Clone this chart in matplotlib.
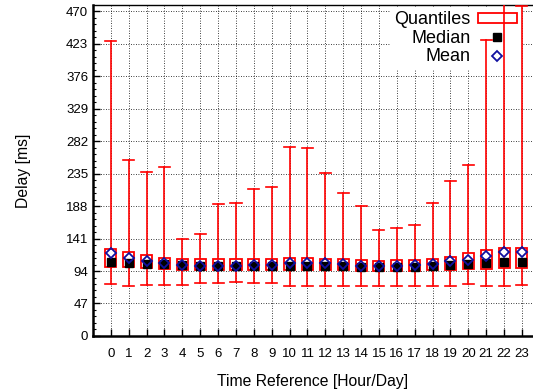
import numpy as np
import matplotlib.pyplot as plt
from matplotlib.patches import Rectangle
from matplotlib.lines import Line2D
from matplotlib.ticker import MultipleLocator

plt.rcParams['font.family'] = ['Liberation Sans', 'DejaVu Sans']

# Hourly delay statistics (ms)
hours = list(range(24))
whisker_lo = [75, 73, 74, 74, 74, 76, 77, 78, 77, 76, 73, 73, 72, 73, 73, 72,
              72, 73, 73, 73, 75, 72, 73, 74]
q1 = [100, 100, 98, 97, 96, 95.5, 95, 95, 95.5, 95.5, 95, 96, 95, 95, 94.5, 94.5,
      94.5, 94.5, 95.5, 95.5, 96.5, 97.5, 98.6, 99]
median = [107, 105.5, 104.5, 104, 102, 101, 101, 101, 101, 101, 101.5, 101, 101,
          101, 100, 100, 100, 100, 101, 102, 104, 106, 107, 107]
mean = [120, 113, 108, 105, 102, 101.5, 101.5, 101.5, 102, 102, 106, 106, 105,
        103.5, 101.5, 101, 101, 102, 103.5, 108, 110.5, 116, 121, 122]
q3 = [126, 122, 117, 113, 111, 111, 111.5, 111, 111.5, 112, 113, 113, 112, 111,
      110, 109, 109.5, 110.5, 112, 115, 119.5, 124, 127.6, 128]
whisker_hi = [427, 255, 238, 244, 141, 147, 191, 193, 213, 216, 273, 272, 236,
              207, 188, 153, 157, 160, 192, 224, 248, 429, 520, 477]

fig = plt.figure(figsize=(5.33, 3.92), dpi=100)
ax = fig.add_axes([0.1745, 0.143, 0.8255, 0.844])

box_w = 0.62
cap_w = 0.62
for h, lo, a, m, mu, b, hi in zip(hours, whisker_lo, q1, median, mean, q3, whisker_hi):
    ax.plot([h, h], [lo, a], color='red', lw=1.2, zorder=3)
    ax.plot([h, h], [b, hi], color='red', lw=1.2, zorder=3)
    ax.plot([h - cap_w / 2, h + cap_w / 2], [lo, lo], color='red', lw=1.2, zorder=3)
    ax.plot([h - cap_w / 2, h + cap_w / 2], [hi, hi], color='red', lw=1.2, zorder=3)
    ax.add_patch(Rectangle((h - box_w / 2, a), box_w, b - a, facecolor='white',
                           edgecolor='red', lw=1.3, zorder=4))

ax.plot(hours, median, 's', color='black', ms=6, zorder=5)
ax.plot(hours, mean, 'D', mfc='none', mec='#1010a0', mew=1.3, ms=5, zorder=6)

ax.set_xlim(-1, 23.62)
ax.set_ylim(0, 479)
ax.set_xticks(hours)
ax.set_yticks(np.arange(0, 471, 47))
ax.yaxis.set_minor_locator(MultipleLocator(9.4))
ax.tick_params(axis='both', direction='in', labelsize=9.5, length=5, width=1)
ax.tick_params(axis='y', which='minor', direction='in', length=2.5, width=0.8)
ax.tick_params(axis='x', pad=9)
ax.grid(True, color='black', linestyle=(0, (1, 2)), lw=0.6)
ax.set_axisbelow(True)

for s in ['left', 'bottom']:
    ax.spines[s].set_linewidth(1.8)
ax.spines['top'].set_linewidth(1.0)
ax.spines['right'].set_visible(False)

ax.set_xlabel('Time Reference [Hour/Day]', fontsize=11.3, labelpad=10)
ax.set_ylabel('Delay [ms]', fontsize=11.3, labelpad=25)

handles = [
    Rectangle((0, 0), 1, 1, facecolor='white', edgecolor='red', lw=1.3),
    Line2D([], [], marker='s', color='black', ls='none', ms=6),
    Line2D([], [], marker='D', mfc='none', mec='#1010a0', mew=1.3, ls='none', ms=5),
]
leg = ax.legend(handles, ['Quantiles', 'Median', 'Mean'], loc='upper right',
                bbox_to_anchor=(0.995, 1.022), markerfirst=False, frameon=True,
                fancybox=False, edgecolor='none', fontsize=13, handlelength=2.2,
                handleheight=0.45, labelspacing=0.08, borderpad=0.25, handletextpad=0.4)
leg.get_frame().set_alpha(1.0)
for t in leg.get_texts():
    t.set_ha('right')
# legend hides the grid but sits under the data marks
leg.set_zorder(2)

fig.savefig('out.png', dpi=100)
